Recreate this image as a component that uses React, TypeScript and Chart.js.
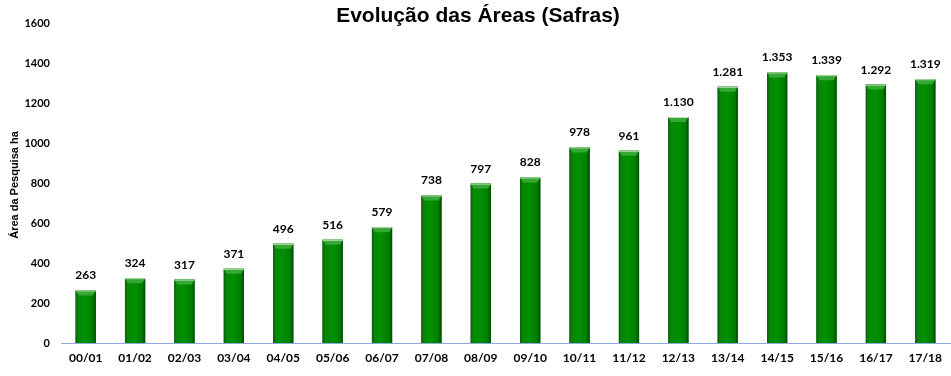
import React, { useEffect, useRef } from "react";
import { Chart, registerables } from "chart.js";

Chart.register(...registerables);

const categories = ["00/01","01/02","02/03","03/04","04/05","05/06","06/07","07/08","08/09","09/10","10/11","11/12","12/13","13/14","14/15","15/16","16/17","17/18"];
const areas = [263, 324, 317, 371, 496, 516, 579, 738, 797, 828, 978, 961, 1130, 1281, 1353, 1339, 1292, 1319];
const yTicks = [0, 200, 400, 600, 800, 1000, 1200, 1400, 1600];
const titleText = "Evolução das Áreas (Safras)";
const yTitleText = "Área da Pesquisa ha";

const fmt = (v: number) => String(v).replace(/\B(?=(\d{3})+(?!\d))/g, ".");

const decorPlugin = {
  id: "decor",
  afterDatasetsDraw(chart: any) {
    const ctx = chart.ctx;
    const meta = chart.getDatasetMeta(0);
    ctx.save();
    meta.data.forEach((bar: any, i: number) => {
      const w = bar.width;
      const x0 = bar.x - w / 2;
      const x1 = bar.x + w / 2;
      const top = bar.y;
      const bottom = bar.base;
      // body gradient
      const g = ctx.createLinearGradient(x0, 0, x1, 0);
      g.addColorStop(0, "#0b5a0b");
      g.addColorStop(0.12, "#088508");
      g.addColorStop(0.45, "#009200");
      g.addColorStop(0.85, "#007c00");
      g.addColorStop(1, "#034803");
      ctx.fillStyle = g;
      ctx.fillRect(x0, top, w, bottom - top);
      // top bevel
      const bev = 5;
      ctx.fillStyle = "#36a836";
      ctx.beginPath();
      ctx.moveTo(x0, top);
      ctx.lineTo(x1, top);
      ctx.lineTo(x1 - 3, top + bev);
      ctx.lineTo(x0 + 3, top + bev);
      ctx.closePath();
      ctx.fill();
      ctx.fillStyle = "#b9dcb0";
      ctx.fillRect(x0, top, w, 1);
      // label
      ctx.fillStyle = "#000";
      ctx.font = "bold 12px Lato, 'Liberation Sans', sans-serif";
      ctx.textAlign = "center";
      ctx.textBaseline = "alphabetic";
      ctx.fillText(fmt(areas[i]), bar.x, top - 11);
    });
    ctx.restore();
  },
  afterDraw(chart: any) {
    const ctx = chart.ctx;
    ctx.save();
    ctx.fillStyle = "#000";
    ctx.font = "bold 21px 'Liberation Sans', Arial, sans-serif";
    ctx.textAlign = "center";
    ctx.textBaseline = "middle";
    ctx.fillText(titleText, 478, 16);
    ctx.translate(15, 185);
    ctx.rotate(-Math.PI / 2);
    ctx.font = "bold 11px 'Liberation Sans', Arial, sans-serif";
    ctx.fillText(yTitleText, 0, 0);
    ctx.restore();
  },
};

export default function App() {
  const ref = useRef<HTMLCanvasElement>(null);
  useEffect(() => {
    document.body.style.margin = "0";
    const canvas = ref.current!;
    const ctx = canvas.getContext("2d")!;
    const chart = new Chart(ctx, {
      type: "bar",
      data: {
        labels: categories,
        datasets: [
          {
            data: areas,
            backgroundColor: "#008000",
            borderWidth: 0,
            barPercentage: 0.41,
            categoryPercentage: 1,
          },
        ],
      },
      options: {
        animation: false,
        responsive: false,
        maintainAspectRatio: false,
        layout: { padding: { top: 23, left: 0, right: 1, bottom: 0 } },
        plugins: { legend: { display: false }, title: { display: false }, tooltip: { enabled: false } },
        scales: {
          x: {
            grid: { display: false, drawTicks: false },
            border: { display: true, color: "#8eaadc", width: 1 },
            ticks: {
              color: "#000",
              font: { family: "Lato, 'Liberation Sans', sans-serif", size: 12, weight: "bold" },
              padding: 8,
              maxRotation: 0,
              autoSkip: false,
            },
            afterFit: (s: any) => { s.height = 33; },
          },
          y: {
            min: 0,
            max: 1600,
            afterBuildTicks: (s: any) => { s.ticks = yTicks.map((v) => ({ value: v })); },
            grid: { display: false, drawTicks: false },
            border: { display: false },
            ticks: {
              color: "#000",
              font: { family: "Lato, 'Liberation Sans', sans-serif", size: 11, weight: "bold" },
              padding: 11,
              callback: (v: any) => String(v),
            },
            afterFit: (s: any) => { s.width = 61; },
          },
        },
      },
      plugins: [decorPlugin],
    } as any);
    return () => chart.destroy();
  }, []);
  return (
    <div style={{ position: "relative", width: 951, height: 376 }}>
      <canvas ref={ref} width={951} height={376} style={{ display: "block", width: 951, height: 376 }} />
    </div>
  );
}
